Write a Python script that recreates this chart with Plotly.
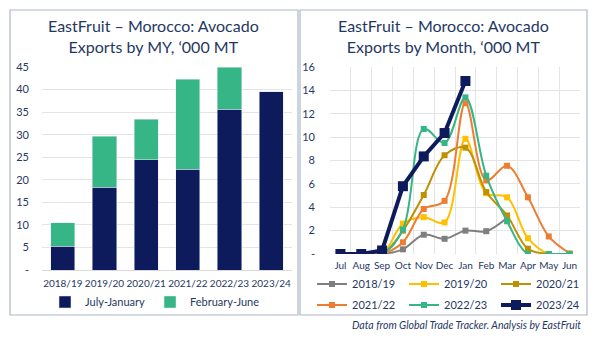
import plotly.graph_objects as go

# Marketing years and split of exports ('000 MT)
years = ["2018/19", "2019/20", "2020/21", "2021/22", "2022/23", "2023/24"]
jul_jan = [5.3, 18.3, 24.4, 22.3, 35.6, 39.5]
feb_jun = [5.2, 11.3, 9.0, 20.0, 9.4, 0.0]

# Monthly exports by marketing year ('000 MT)
months = ["Jul", "Aug", "Sep", "Oct", "Nov", "Dec", "Jan", "Feb", "Mar", "Apr", "May", "Jun"]
monthly = {
    "2018/19": [0.0, 0.0, 0.0, 0.4, 1.65, 1.3, 2.0, 1.95, 3.1, None, None, None],
    "2019/20": [0.0, 0.0, 0.0, 2.6, 3.15, 2.7, 9.85, 5.2, 4.85, 1.35, 0.0, 0.0],
    "2020/21": [0.0, 0.0, 0.0, 2.0, 5.05, 8.45, 9.1, 5.3, 3.3, 0.45, 0.0, 0.0],
    "2021/22": [0.0, 0.0, 0.0, 1.0, 3.85, 4.55, 12.9, 6.3, 7.55, 4.85, 1.5, 0.05],
    "2022/23": [0.0, 0.0, 0.0, 2.1, 10.7, 9.5, 13.4, 6.7, 2.8, 0.0, 0.0, 0.0],
    "2023/24": [0.0, 0.0, 0.3, 5.8, 8.35, 10.35, 14.8, None, None, None, None, None],
}
line_colors = {
    "2018/19": "#7F7F7F",
    "2019/20": "#FFC000",
    "2020/21": "#BF9000",
    "2021/22": "#ED7D31",
    "2022/23": "#36B586",
    "2023/24": "#0D1B5C",
}

NAVY = "#0D1B5C"
GREEN = "#36B586"
TXT = "#1F3864"
FONT = "Lato"
W, H = 600, 338

fig = go.Figure()

fig.add_trace(go.Bar(x=years, y=jul_jan, name="July-January", marker_color=NAVY,
                     xaxis="x", yaxis="y", legend="legend"))
fig.add_trace(go.Bar(x=years, y=feb_jun, name="February-June", marker_color=GREEN,
                     xaxis="x", yaxis="y", legend="legend"))

# First three seasons go in the upper legend row, the rest in the lower row
for i, (name, vals) in enumerate(monthly.items()):
    bold = name == "2023/24"
    fig.add_trace(go.Scatter(
        x=months, y=vals, name=name, mode="lines+markers",
        line=dict(color=line_colors[name], width=4 if bold else 2,
                  shape="linear" if bold else "spline", smoothing=1.0),
        marker=dict(symbol="square", size=10 if bold else 6, color=line_colors[name]),
        xaxis="x2", yaxis="y2", legend="legend2" if i < 3 else "legend3",
        connectgaps=False,
    ))

def px_x(v):
    return v / W

def px_y(v):
    return 1 - v / H

tick_font = dict(family=FONT, size=11, color=TXT)
cat_font = dict(family=FONT, size=10, color=TXT)
legend_font = dict(family=FONT, size=11, color=TXT)

row_legend = dict(orientation="h", xref="container", yref="container",
                  x=px_x(312), xanchor="left", yanchor="middle",
                  entrywidth=47, itemwidth=30, font=legend_font,
                  bgcolor="rgba(0,0,0,0)", traceorder="normal")

fig.update_layout(
    width=W, height=H,
    margin=dict(l=0, r=0, t=0, b=0, autoexpand=False),
    paper_bgcolor="white", plot_bgcolor="white",
    barmode="stack", bargap=0.42,
    font=dict(family=FONT, color=TXT),
    xaxis=dict(domain=[px_x(42), px_x(292)], anchor="y", tickfont=cat_font,
               showgrid=False, showline=True, linecolor="#D9D9D9", ticks="",
               tickangle=0, automargin=False, fixedrange=True, ticklabelstandoff=4),
    yaxis=dict(domain=[px_y(270), px_y(67)], anchor="x", range=[0, 45],
               tickvals=list(range(0, 50, 5)),
               ticktext=["-"] + [str(v) for v in range(5, 50, 5)],
               tickfont=tick_font, showgrid=True, gridcolor="#E4E4E4",
               zeroline=False, ticklabelstandoff=12, automargin=False),
    xaxis2=dict(domain=[px_x(330), px_x(580)], anchor="y2", tickfont=cat_font,
                showgrid=True, gridcolor="#E4E4E4", tickson="boundaries",
                ticks="", showline=False, range=[-0.5, 11.5], tickangle=0,
                automargin=False, ticklabelstandoff=4),
    yaxis2=dict(domain=[px_y(254), px_y(67)], anchor="x2", range=[0, 16],
                tickvals=list(range(0, 18, 2)),
                ticktext=["-"] + [str(v) for v in range(2, 18, 2)],
                tickfont=tick_font, showgrid=True, gridcolor="#E4E4E4",
                zeroline=False, ticklabelstandoff=14, automargin=False),
    legend=dict(orientation="h", xref="container", yref="container",
                x=px_x(155), xanchor="center", y=px_y(302), yanchor="middle",
                font=legend_font, itemwidth=30,
                bgcolor="rgba(0,0,0,0)", traceorder="normal"),
    legend2=dict(y=px_y(284), **row_legend),
    legend3=dict(y=px_y(305), **row_legend),
    showlegend=True,
)

# Panel frames
frame = dict(type="rect", xref="paper", yref="paper",
             line=dict(color="#AEB8C8", width=1.2), fillcolor="rgba(0,0,0,0)", layer="below")
fig.add_shape(x0=px_x(10), x1=px_x(298), y0=px_y(315), y1=px_y(10), **frame)
fig.add_shape(x0=px_x(300), x1=px_x(587), y0=px_y(315), y1=px_y(10), **frame)

title_font = dict(family=FONT, size=16, color=TXT)
fig.add_annotation(text="EastFruit – Morocco: Avocado<br>Exports by MY, ‘000 MT",
                   x=px_x(153), y=px_y(36), xref="paper", yref="paper",
                   xanchor="center", yanchor="middle",
                   showarrow=False, font=title_font, align="center")
fig.add_annotation(text="EastFruit – Morocco: Avocado<br>Exports by Month, ‘000 MT",
                   x=px_x(443), y=px_y(36), xref="paper", yref="paper",
                   xanchor="center", yanchor="middle",
                   showarrow=False, font=title_font, align="center")
fig.add_annotation(text="<i>Data from Global Trade Tracker. Analysis by EastFruit</i>",
                   x=px_x(583), y=px_y(325), xref="paper", yref="paper",
                   xanchor="right", yanchor="middle", showarrow=False,
                   font=dict(family=FONT, size=10.5, color=TXT))

fig.write_html("out.html")
